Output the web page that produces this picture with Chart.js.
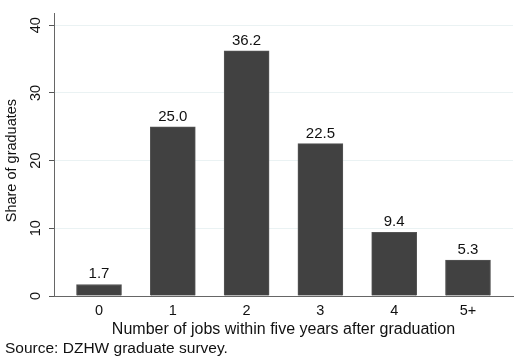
<!DOCTYPE html>
<html>
<head>
<meta charset="utf-8">
<script src="https://cdn.jsdelivr.net/npm/chart.js@4.4.1/dist/chart.umd.min.js"></script>
<style>
  body { margin: 0; background: #fff; }
  canvas { display: block; }
</style>
</head>
<body>
<canvas id="chart" width="516" height="356"></canvas>
<script>
// Datos
const categories = ['0', '1', '2', '3', '4', '5+'];
const shares = [1.7, 25.0, 36.2, 22.5, 9.4, 5.3];
const yTicks = [0, 10, 20, 30, 40];
const yTitle = 'Share of graduates';
const xTitle = 'Number of jobs within five years after graduation';
const sourceNote = 'Source: DZHW graduate survey.';

const FONT = '"Liberation Sans", Arial, sans-serif';

// etiquetas de valor encima de cada barra
const valueLabels = {
  id: 'valueLabels',
  afterDatasetsDraw(chart) {
    const ctx = chart.ctx;
    const meta = chart.getDatasetMeta(0);
    ctx.save();
    ctx.font = '15px ' + FONT;
    ctx.fillStyle = '#111';
    ctx.textAlign = 'center';
    ctx.textBaseline = 'alphabetic';
    meta.data.forEach((bar, i) => {
      ctx.fillText(shares[i].toFixed(1), bar.x, bar.y - 6);
    });
    ctx.restore();
  }
};

// titulo del eje y (centrado sobre 0..40) y nota de la fuente
const extraText = {
  id: 'extraText',
  afterDraw(chart) {
    const ctx = chart.ctx;
    const y = chart.scales.y;
    const mid = (y.getPixelForValue(yTicks[0]) + y.getPixelForValue(yTicks[yTicks.length - 1])) / 2;
    ctx.save();
    ctx.fillStyle = '#111';
    ctx.font = '14.5px ' + FONT;
    ctx.translate(12, mid);
    ctx.rotate(-Math.PI / 2);
    ctx.textAlign = 'center';
    ctx.textBaseline = 'middle';
    ctx.fillText(yTitle, 0, 0);
    ctx.restore();

    ctx.save();
    ctx.font = '15.5px ' + FONT;
    ctx.fillStyle = '#111';
    ctx.textAlign = 'left';
    ctx.textBaseline = 'alphabetic';
    ctx.fillText(sourceNote, 5, 353);
    ctx.restore();
  }
};

const ctx = document.getElementById('chart').getContext('2d');
new Chart(ctx, {
  type: 'bar',
  data: {
    datasets: [{
      data: shares.map((v, i) => ({ x: i, y: v })),
      backgroundColor: '#414141',
      borderColor: '#555555',
      borderWidth: 1,
      barThickness: 45
    }]
  },
  options: {
    responsive: false,
    animation: false,
    layout: { padding: { top: 4, right: 3, left: 0, bottom: 0 } },
    plugins: {
      legend: { display: false },
      tooltip: { enabled: false }
    },
    scales: {
      x: {
        type: 'linear',
        offset: false,
        min: -0.61,
        max: 5.61,
        afterBuildTicks: axis => { axis.ticks = categories.map((c, i) => ({ value: i })); },
        afterFit: axis => { axis.height = 60; },
        grid: { display: false, drawTicks: false },
        border: { color: '#666', width: 1 },
        ticks: {
          font: { family: FONT, size: 14.5 },
          color: '#111',
          padding: 6,
          callback: v => categories[v]
        },
        title: {
          display: true,
          text: xTitle,
          font: { family: FONT, size: 16 },
          color: '#111',
          padding: { top: 0, bottom: 17 }
        }
      },
      y: {
        min: 0,
        max: 41.7,
        afterBuildTicks: axis => { axis.ticks = yTicks.map(v => ({ value: v })); },
        afterFit: axis => { axis.width = 54; },
        grid: { color: '#eaf2f3', tickColor: '#555', tickLength: 5, lineWidth: 1 },
        border: { color: '#666', width: 1 },
        ticks: {
          font: { family: FONT, size: 14.5 },
          color: '#111',
          minRotation: 90,
          maxRotation: 90,
          crossAlign: 'center',
          padding: 5
        }
      }
    }
  },
  plugins: [valueLabels, extraText]
});
</script>
</body>
</html>
